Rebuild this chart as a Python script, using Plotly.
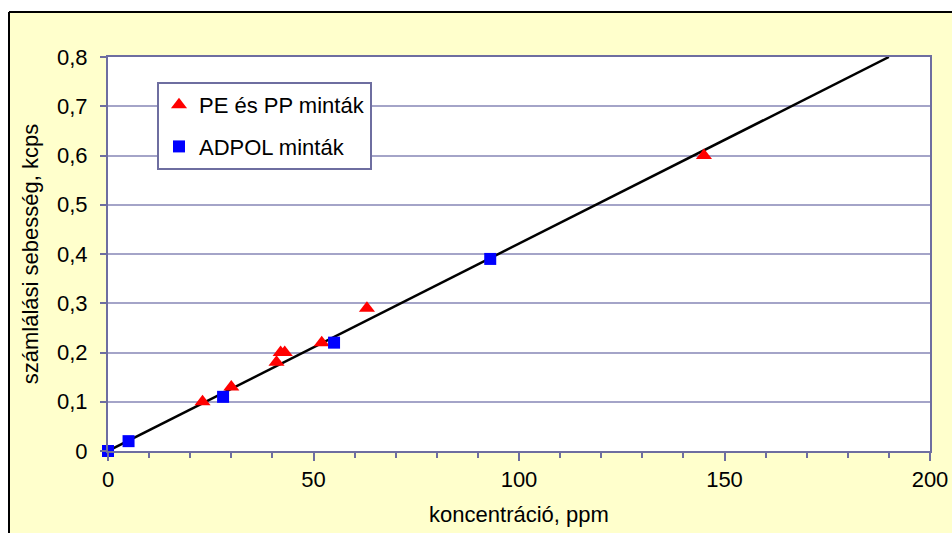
import plotly.graph_objects as go

# Data
pe_pp_conc = [23, 30, 41, 42, 43, 52, 63, 145]
pe_pp_rate = [0.10, 0.13, 0.18, 0.20, 0.20, 0.22, 0.29, 0.60]
adpol_conc = [0, 5, 28, 55, 93]
adpol_rate = [0.00, 0.02, 0.11, 0.22, 0.39]
fit_conc = [0, 190]
fit_rate = [0.0, 0.8]

FONT = "Liberation Sans, Arial, sans-serif"
AXIS_COL = "#6E6EA0"
GRID_COL = "#A4A4C8"
FS = 22

fig = go.Figure()
fig.add_trace(go.Scatter(x=fit_conc, y=fit_rate, mode="lines",
                         line=dict(color="black", width=2.5),
                         showlegend=False, hoverinfo="skip"))
fig.add_trace(go.Scatter(x=pe_pp_conc, y=pe_pp_rate, mode="markers",
                         name="PE és PP minták", legendgroup="a",
                         marker=dict(symbol="triangle-up", color="#FF0000", size=14),
                         cliponaxis=False))
fig.add_trace(go.Scatter(x=adpol_conc, y=adpol_rate, mode="markers",
                         name="ADPOL minták", legendgroup="b",
                         marker=dict(symbol="square", color="#0000FF", size=12),
                         cliponaxis=False))

fig.update_layout(
    width=952, height=533,
    margin=dict(l=108, r=22, t=57, b=82, autoexpand=False),
    paper_bgcolor="#FFFFCC", plot_bgcolor="white",
    separators=", ",
    font=dict(family=FONT, size=FS, color="black"),
    xaxis=dict(range=[0, 200], dtick=50, tick0=0, ticks="outside", ticklen=8,
               tickwidth=2, tickcolor=AXIS_COL, showgrid=False, zeroline=False,
               showline=True, linecolor=AXIS_COL, linewidth=2, mirror=True,
               tickfont=dict(size=FS), automargin=False,
               minor=dict(dtick=10, ticks="outside", ticklen=5, tickwidth=2,
                          tickcolor=AXIS_COL, showgrid=False),
               title=dict(text="koncentráció, ppm", font=dict(size=FS), standoff=15)),
    yaxis=dict(range=[0, 0.8], dtick=0.1, tick0=0, ticks="outside", ticklen=6,
               tickwidth=2, tickcolor=AXIS_COL, showgrid=True, gridcolor=GRID_COL,
               gridwidth=1.5, zeroline=False, showline=True, linecolor=AXIS_COL,
               linewidth=2, mirror=True, tickfont=dict(size=FS), ticklabelstandoff=8,
               automargin=False,
               title=dict(text="számlálási sebesség, kcps", font=dict(size=FS), standoff=12)),
    legend=dict(x=0.0596, y=0.9365, xanchor="left", yanchor="top",
                bgcolor="white", bordercolor=AXIS_COL, borderwidth=2,
                font=dict(size=FS), traceorder="grouped", tracegroupgap=10,
                itemwidth=30, entrywidth=225, entrywidthmode="pixels"),
    shapes=[
        dict(type="rect", xref="paper", yref="paper", x0=-0.5, x1=1.5,
             y0=(451 - 12) / 394, y1=1.3, fillcolor="white", line=dict(width=0), layer="above"),
        dict(type="rect", xref="paper", yref="paper", x0=-0.5, x1=(9 - 108) / 822,
             y0=-0.5, y1=1.3, fillcolor="white", line=dict(width=0), layer="above"),
        dict(type="line", xref="paper", yref="paper", x0=(9 - 108) / 822, x1=1.5,
             y0=(451 - 12) / 394, y1=(451 - 12) / 394, line=dict(color="black", width=2), layer="above"),
        dict(type="line", xref="paper", yref="paper", x0=(9 - 108) / 822, x1=(9 - 108) / 822,
             y0=-0.5, y1=(451 - 12) / 394, line=dict(color="black", width=2), layer="above"),
    ],
)

fig.write_html("out.html", config={"displayModeBar": False},
               post_script="document.body.style.margin='0';")
